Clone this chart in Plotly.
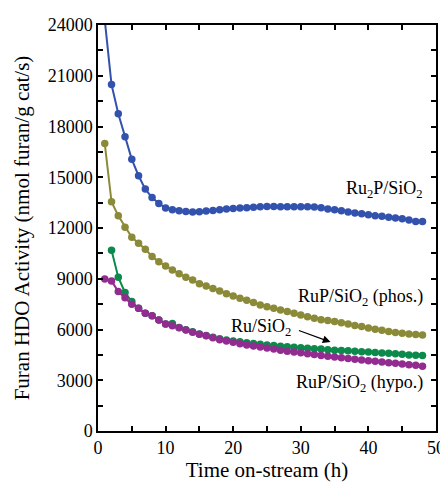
import plotly.graph_objects as go

hours = list(range(1, 49))

ru2p = [24300, 20480, 18750, 17390, 16060, 15090, 14300, 13800, 13450, 13180,
        13080, 13020, 12980, 12940, 12960, 13000, 13040, 13080, 13120, 13150,
        13180, 13200, 13230, 13250, 13270, 13270, 13260, 13260, 13260, 13250,
        13250, 13240, 13190, 13130, 13080, 13020, 12950, 12890, 12840, 12790,
        12730, 12690, 12640, 12590, 12540, 12480, 12390, 12380]

rup_phos = [16990, 13550, 12720, 12050, 11450, 11100, 10740, 10320, 10000, 9760,
            9520, 9290, 9090, 8920, 8700, 8570, 8430, 8280, 8120, 7980,
            7850, 7730, 7600, 7450, 7350, 7250, 7150, 7060, 6960, 6860,
            6750, 6660, 6580, 6530, 6480, 6400, 6320, 6240, 6170, 6090,
            6020, 5950, 5880, 5830, 5780, 5730, 5700, 5670]

ru_hours = list(range(2, 49))
ru = [10680, 9090, 8180, 7650, 7250, 6960, 6810, 6560, 6330,
      6360, 6120, 5990, 5860, 5740, 5650, 5540, 5450, 5380, 5320,
      5270, 5220, 5170, 5130, 5090, 5050, 5010, 4980, 4950, 4920,
      4890, 4860, 4840, 4810, 4780, 4760, 4740, 4710, 4690, 4670,
      4640, 4610, 4590, 4560, 4530, 4500, 4480, 4460]

rup_hypo = [8990, 8870, 8240, 7880, 7490, 7250, 6960, 6810, 6560, 6330,
            6220, 6100, 5970, 5840, 5720, 5630, 5510, 5400, 5320, 5240,
            5160, 5090, 5020, 4960, 4900, 4840, 4780, 4720, 4670, 4620,
            4570, 4520, 4470, 4420, 4370, 4330, 4280, 4240, 4200, 4160,
            4120, 4080, 4040, 4000, 3960, 3920, 3880, 3830]

series = [
    ("Ru2P/SiO2", hours, ru2p, "#3352ad"),
    ("RuP/SiO2 (phos.)", hours, rup_phos, "#8a8a38"),
    ("Ru/SiO2", ru_hours, ru, "#0b8a4b"),
    ("RuP/SiO2 (hypo.)", hours, rup_hypo, "#922c90"),
]

FONT = "Liberation Serif, Times New Roman, serif"

fig = go.Figure()
for name, xs, ys, col in series:
    fig.add_trace(go.Scatter(
        x=xs, y=ys, mode="lines+markers", name=name,
        line=dict(color=col, width=2),
        marker=dict(color=col, size=7.5),
        cliponaxis=True, showlegend=False,
    ))

axis_common = dict(
    showline=True, linecolor="black", linewidth=1.5, mirror="ticks",
    ticks="inside", ticklen=5, tickwidth=1.5, tickcolor="black",
    showgrid=False, zeroline=False, automargin=False,
    tickfont=dict(family=FONT, size=18, color="black"),
)

fig.update_xaxes(
    range=[0, 50], dtick=10, tick0=0, tickformat="d",
    minor=dict(dtick=5, ticks="inside", ticklen=5, tickwidth=1.5, tickcolor="black", showgrid=False),
    title=dict(text="Time on-stream (h)", font=dict(family=FONT, size=21, color="black"), standoff=3),
    **axis_common,
)
fig.update_yaxes(
    range=[0, 24000], dtick=3000, tick0=0, tickformat="d",
    minor=dict(dtick=1500, ticks="inside", ticklen=5, tickwidth=1.5, tickcolor="black", showgrid=False),
    title=dict(text="Furan HDO Activity (nmol furan/g cat/s)", font=dict(family=FONT, size=21, color="black"), standoff=12),
    **axis_common,
)

ann_font = dict(family=FONT, size=18, color="black")
fig.add_annotation(x=48.4, y=14264, xref="x", yref="y", text="Ru<sub>2</sub>P/SiO<sub>2</sub>",
                   showarrow=False, xanchor="right", yanchor="middle", font=ann_font)
fig.add_annotation(x=48.4, y=7864, xref="x", yref="y", text="RuP/SiO<sub>2</sub> (phos.)",
                   showarrow=False, xanchor="right", yanchor="middle", font=ann_font)
fig.add_annotation(x=28.8, y=6145, xref="x", yref="y", text="Ru/SiO<sub>2</sub>",
                   showarrow=False, xanchor="right", yanchor="middle", font=ann_font)
fig.add_annotation(x=48.4, y=2827, xref="x", yref="y", text="RuP/SiO<sub>2</sub> (hypo.)",
                   showarrow=False, xanchor="right", yanchor="middle", font=ann_font)
fig.add_annotation(x=34.4, y=5256, ax=29.5, ay=5973, xref="x", yref="y", axref="x", ayref="y",
                   text="", showarrow=True, arrowhead=2, arrowsize=1.2, arrowwidth=1.3, arrowcolor="black")

# page body has an 8px default margin; the figure is sized so it ends at the window edge
fig.update_layout(
    width=440, height=482,
    margin=dict(l=90, r=12, t=17, b=59),
    plot_bgcolor="white", paper_bgcolor="white",
    font=dict(family=FONT, color="black"),
)

fig.write_html("out.html")
